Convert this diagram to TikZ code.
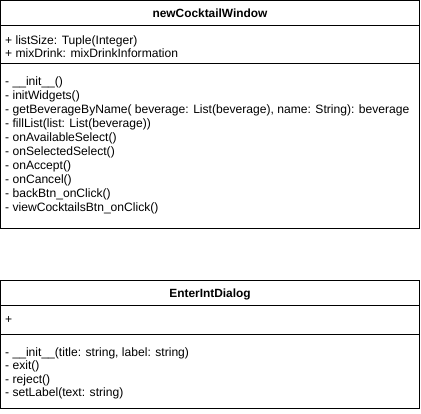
\documentclass[tikz,border=0pt]{standalone}
\usepackage{fontspec}
\setmainfont{Liberation Sans}
\begin{document}
\begin{tikzpicture}[x=1pt,y=-1pt,
  boxline/.style={draw=black,line width=1pt},
  txt/.style={anchor=base west,inner sep=0pt,font=\fontsize{12.1}{14}\selectfont},
  ttl/.style={anchor=base,inner sep=0pt,font=\fontsize{11.9}{14}\selectfont\bfseries}]
\useasboundingbox (0,0) rectangle (421,414);
% box 1
\draw[boxline] (0.5,0.5) rectangle (419.5,228.5);
\draw[boxline] (0.5,26) -- (419.5,26);
\draw[boxline] (0.5,64) -- (419.5,64);
\node[ttl] (t1) at (210,17.6) {newCocktailWindow};
\node[txt] (a1) at (5,44.3) {+ listSize: Tuple(Integer)};
\node[txt] (a2) at (5,57.4) {+ mixDrink: mixDrinkInformation};
\node[txt] (m1) at (5,86.0) {- \_\_init\_\_()};
\node[txt] (m2) at (5,99.95) {- initWidgets()};
\node[txt] (m3) at (5,113.9) {- getBeverageByName( beverage: List(beverage), name: String): beverage};
\node[txt] (m4) at (5,127.85) {- fillList(list: List(beverage))};
\node[txt] (m5) at (5,141.8) {- onAvailableSelect()};
\node[txt] (m6) at (5,155.75) {- onSelectedSelect()};
\node[txt] (m7) at (5,169.7) {- onAccept()};
\node[txt] (m8) at (5,183.65) {- onCancel()};
\node[txt] (m9) at (5,197.6) {- backBtn\_onClick()};
\node[txt] (m10) at (5,211.55) {- viewCocktailsBtn\_onClick()};
% box 2
\draw[boxline] (0.5,281) rectangle (419.5,409);
\draw[boxline] (0.5,306) -- (419.5,306);
\draw[boxline] (0.5,334.5) -- (419.5,334.5);
\node[ttl] (t2) at (210,297.6) {EnterIntDialog};
\node[txt] (b1) at (5,324) {+};
\node[txt] (n1) at (5,356.2) {- \_\_init\_\_(title: string, label: string)};
\node[txt] (n2) at (5,369.7) {- exit()};
\node[txt] (n3) at (5,383.2) {- reject()};
\node[txt] (n4) at (5,396.7) {- setLabel(text: string)};
\end{tikzpicture}
\end{document}
